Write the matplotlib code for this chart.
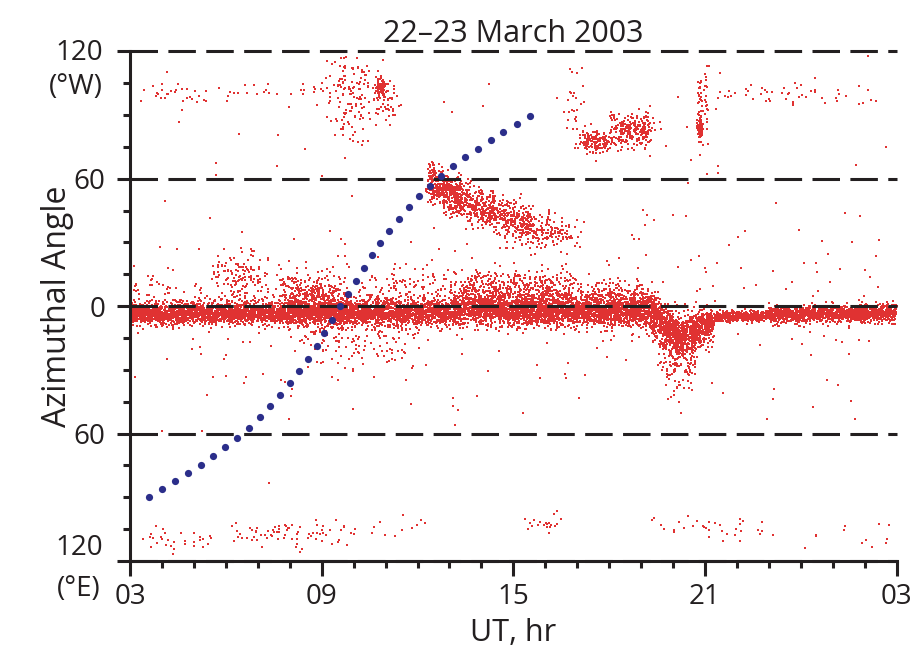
import numpy as np
import matplotlib
matplotlib.use("Agg")
import matplotlib.pyplot as plt
from matplotlib.transforms import blended_transform_factory

plt.rcParams['font.family'] = ['Open Sans', 'DejaVu Sans']

# blue dotted curve (UT hr, deg)
sun_ut = [3.59, 4.00, 4.41, 4.81, 5.21, 5.60, 5.98, 6.36, 6.72, 7.08, 7.39, 7.71,
          8.00, 8.29, 8.56, 8.84, 9.08, 9.32, 9.56, 9.81, 10.06, 10.31, 10.56,
          10.84, 11.12, 11.41, 11.72, 12.05, 12.38, 12.75, 13.11, 13.50, 13.89,
          14.29, 14.68, 15.10, 15.51]
sun_az = [-89.7, -86.1, -82.4, -78.7, -74.8, -70.6, -66.4, -62.0, -57.3, -52.4,
          -47.2, -41.9, -36.2, -30.6, -24.8, -18.7, -12.7, -6.6, -0.1, 5.8, 11.8,
          17.9, 23.9, 29.8, 35.6, 41.1, 46.6, 51.8, 56.6, 61.3, 65.9, 70.3, 74.2,
          78.3, 82.0, 85.6, 89.4]

# red point clouds: x range, centre at start / end, y spread, x blur, count (estimated)
cl_x0 = [3.0, 8.0, 10.5, 13.0, 19.3, 20.2, 19.7, 21.3, 23.0,
         5.8, 7.9, 3.0, 13.2, 16.8, 10.0,
         12.35, 13.4, 15.6,
         9.3, 10.72, 10.6, 3.0, 17.15, 18.15, 20.78, 20.78, 21.0, 21.0, 16.8,
         3.6, 6.2, 9.8, 15.6, 19.6, 23.0,
         3.0, 8.5, 3.0]
cl_x1 = [8.0, 10.5, 13.0, 19.3, 20.2, 21.3, 20.7, 23.0, 27.0,
         7.0, 9.6, 8.0, 16.8, 19.3, 13.0,
         13.4, 15.6, 16.8,
         10.5, 10.98, 11.3, 9.2, 18.0, 19.3, 20.9, 20.9, 21.1, 27.0, 17.1,
         5.5, 9.6, 12.5, 16.4, 23.0, 27.0,
         27.0, 12.0, 27.0]
cl_y0 = [-3.5, -3.0, -3.0, -2.0, -3.0, -15.0, -22.0, -5.0, -4.0,
         14.0, 5.0, 3.0, 6.0, 4.0, 5.0,
         60.0, 50.0, 38.0,
         100.0, 103.0, 96.0, 100.0, 78.0, 83.0, 84.0, 95.0, 100.0, 100.0, 95.0,
         -110.0, -108.0, -104.0, -102.0, -104.0, -106.0,
         0.0, -15.0, 90.0]
cl_y1 = [-3.5, -3.0, -3.0, -3.0, -15.0, -6.0, -22.0, -4.5, -3.5,
         14.0, 5.0, 3.0, 6.0, 4.0, 5.0,
         50.0, 38.0, 32.0,
         100.0, 103.0, 96.0, 100.0, 77.0, 83.0, 84.0, 95.0, 100.0, 100.0, 95.0,
         -110.0, -108.0, -104.0, -102.0, -104.0, -106.0,
         0.0, -15.0, 90.0]
cl_sd = [2.5, 3.0, 3.0, 3.5, 5.0, 4.0, 8.0, 1.2, 2.0,
         5.0, 5.0, 7.0, 5.0, 4.0, 8.0,
         4.5, 4.5, 5.0,
         11.0, 2.0, 5.0, 3.0, 2.5, 4.0, 3.0, 12.0, 12.0, 3.0, 10.0,
         3.0, 3.0, 4.0, 3.0, 3.0, 5.0,
         25.0, 8.0, 12.0]
cl_sx = [0.0, 0.0, 0.0, 0.0, 0.0, 0.0, 0.15, 0.0, 0.0,
         0.3, 0.3, 0.3, 0.2, 0.2, 0.3,
         0.05, 0.1, 0.3,
         0.3, 0.03, 0.15, 0.3, 0.12, 0.15, 0.02, 0.02, 0.02, 0.3, 0.15,
         0.3, 0.3, 0.4, 0.2, 0.3, 0.4,
         0.0, 0.3, 0.0]
cl_n = [1900, 1250, 950, 2700, 600, 500, 220, 520, 1250,
        110, 380, 140, 650, 280, 150,
        480, 520, 140,
        140, 70, 50, 55, 170, 240, 80, 30, 25, 50, 25,
        30, 70, 15, 20, 35, 12,
        300, 150, 40]

rng = np.random.default_rng(7)
px, py = [], []
for x0, x1, y0, y1, sd, sx, n in zip(cl_x0, cl_x1, cl_y0, cl_y1, cl_sd, cl_sx, cl_n):
    xs = rng.uniform(x0, x1, n)
    yc = y0 + (y1 - y0) * (xs - x0) / (x1 - x0)
    ys = yc + rng.normal(0, sd, n)
    xs = xs + rng.normal(0, 1, n) * sx
    px.append(xs)
    py.append(ys)
px = np.concatenate(px)
py = np.concatenate(py)
keep = (py > -118) & (py < 118) & (px >= 3) & (px <= 27)
px, py = px[keep], py[keep]

ink = '#231f20'
fig = plt.figure(figsize=(9.17, 6.57), dpi=100)
ax = fig.add_axes([0.1418, 0.146, 0.836, 0.776])

ax.scatter(px, py, s=1.3, marker='s', c='#e03232', linewidths=0, zorder=2)
ax.plot(sun_ut, sun_az, 'o', color='#2b2e8a', ms=5.2, mec='none', zorder=4)

for yv in [120, 60, 0, -60, -120]:
    ax.axhline(yv, color=ink, lw=2.2, ls=(0, (9.0, 3.4)), zorder=3, clip_on=False)

ax.set_xlim(3, 27)
ax.set_ylim(-120, 120)
for s in ['top', 'right']:
    ax.spines[s].set_visible(False)
for s in ['left', 'bottom']:
    ax.spines[s].set_linewidth(2.2)
    ax.spines[s].set_color(ink)

ax.set_xticks([3, 9, 15, 21, 27])
ax.set_xticklabels(['03', '09', '15', '21', '03'])
ax.set_xticks(np.arange(3, 28, 1), minor=True)
ax.set_yticks([-120, -60, 0, 60, 120])
ax.set_yticklabels(['', '60', '0', '60', ''])
ax.set_yticks(np.arange(-120, 121, 15), minor=True)
ax.tick_params(axis='both', which='major', width=2.2, color=ink, labelsize=20,
               labelcolor=ink)
ax.tick_params(axis='x', which='major', length=11, pad=5)
ax.tick_params(axis='y', which='major', length=9.5, pad=8)
ax.tick_params(axis='both', which='minor', width=2.2, color=ink, length=5)

tr = blended_transform_factory(ax.transAxes, ax.transData)
ax.text(-0.035, 119, '120', transform=tr, ha='right', va='center', fontsize=20, color=ink)
ax.text(-0.035, 103, '(°W)', transform=tr, ha='right', va='center', fontsize=20, color=ink)
ax.text(-0.035, -114, '120', transform=tr, ha='right', va='center', fontsize=20, color=ink)
ax.text(-0.038, -133, '(°E)', transform=tr, ha='right', va='center', fontsize=20, color=ink)

ax.set_title('22–23 March 2003', fontsize=22, color=ink, pad=7)
ax.set_xlabel('UT, hr', fontsize=22, color=ink, labelpad=5)
ax.set_ylabel('Azimuthal Angle', fontsize=23, color=ink, labelpad=0)

fig.savefig('out.png', dpi=100)
